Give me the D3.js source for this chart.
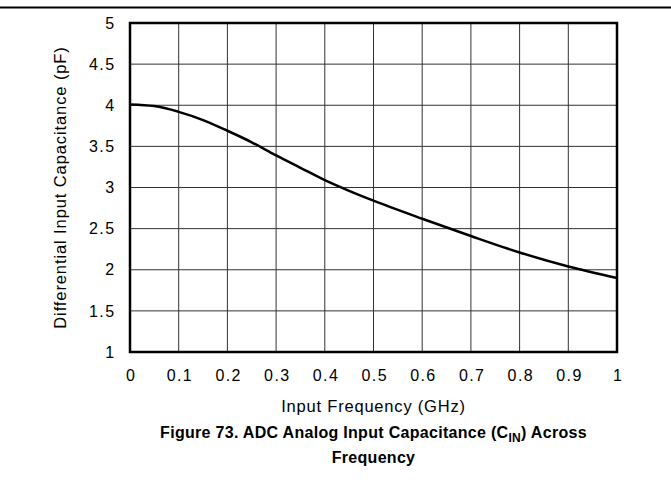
<!DOCTYPE html>
<html>
<head>
<meta charset="utf-8">
<script src="https://cdn.jsdelivr.net/npm/d3@7"></script>
<style>
  body { margin: 0; background: #fff; }
  text { font-family: "Liberation Sans", Arial, Helvetica, sans-serif; fill: #000; }
</style>
</head>
<body>
<div id="container"></div>
<script>
// Data.
const freqGHz = [0, 0.05, 0.1, 0.15, 0.2, 0.25, 0.3, 0.35, 0.4, 0.45, 0.5, 0.6, 0.7, 0.8, 0.9, 1.0];
const capPF   = [4.01, 3.99, 3.92, 3.82, 3.69, 3.55, 3.39, 3.24, 3.09, 2.96, 2.84, 2.62, 2.41, 2.21, 2.04, 1.9];
const xTicks = [0, 0.1, 0.2, 0.3, 0.4, 0.5, 0.6, 0.7, 0.8, 0.9, 1];
const yTicks = [1, 1.5, 2, 2.5, 3, 3.5, 4, 4.5, 5];

const W = 671, H = 491;
const margin = { top: 23, right: 54, bottom: 139, left: 130 },
  width = W - margin.left - margin.right,
  height = H - margin.top - margin.bottom;

const svg = d3.select('#container')
  .append('svg')
  .attr('width', W)
  .attr('height', H);

// Rule at top of the page.
svg.append('line')
  .attr('x1', 0).attr('x2', W)
  .attr('y1', 7.5).attr('y2', 7.5)
  .attr('stroke', '#000')
  .attr('stroke-width', 2);

const g = svg.append('g')
  .attr('transform', `translate(${margin.left} ${margin.top})`);

const x = d3.scaleLinear().domain([0, 1]).range([0, width]);
const y = d3.scaleLinear().domain([1, 5]).range([height, 0]);

// Grid.
g.append('g')
  .selectAll('line')
  .data(xTicks)
  .join('line')
  .attr('x1', d => x(d)).attr('x2', d => x(d))
  .attr('y1', 0).attr('y2', height)
  .attr('stroke', '#333')
  .attr('stroke-width', 1);

g.append('g')
  .selectAll('line')
  .data(yTicks)
  .join('line')
  .attr('x1', 0).attr('x2', width)
  .attr('y1', d => y(d)).attr('y2', d => y(d))
  .attr('stroke', '#333')
  .attr('stroke-width', 1);

// Axes (labels only).
const xAxis = g.append('g')
  .attr('transform', `translate(0 ${height})`)
  .call(d3.axisBottom(x).tickValues(xTicks).tickSize(0).tickPadding(18).tickFormat(d3.format('')));
const yAxis = g.append('g')
  .call(d3.axisLeft(y).tickValues(yTicks).tickSize(0).tickPadding(14.5).tickFormat(d3.format('')));
[xAxis, yAxis].forEach(a => {
  a.select('.domain').remove();
  a.selectAll('text')
    .attr('font-size', 16)
    .attr('letter-spacing', 1.4)
    .attr('font-family', '"Liberation Sans", Arial, sans-serif')
    .attr('fill', '#000');
});
xAxis.selectAll('text').attr('dx', 0.7);

// Frame.
g.append('rect')
  .attr('width', width)
  .attr('height', height)
  .attr('fill', 'none')
  .attr('stroke', '#000')
  .attr('stroke-width', 2.5);

// Curve.
const line = d3.line()
  .x((d, i) => x(freqGHz[i]))
  .y(d => y(d))
  .curve(d3.curveMonotoneX);

g.append('path')
  .datum(capPF)
  .attr('d', line)
  .attr('fill', 'none')
  .attr('stroke', '#000')
  .attr('stroke-width', 2.5);

// Axis titles.
g.append('text')
  .attr('x', width / 2)
  .attr('y', height + 60)
  .attr('text-anchor', 'middle')
  .attr('font-size', 16.5)
  .attr('letter-spacing', 0.8)
  .text('Input Frequency (GHz)');

g.append('text')
  .attr('transform', `translate(${-64} ${height / 2}) rotate(-90)`)
  .attr('text-anchor', 'middle')
  .attr('font-size', 16.5)
  .attr('letter-spacing', 0.9)
  .text('Differential Input Capacitance (pF)');

// Figure caption.
const cap = svg.append('text')
  .attr('x', margin.left + width / 2)
  .attr('y', 438)
  .attr('text-anchor', 'middle')
  .attr('font-size', 16)
  .attr('letter-spacing', 0.3)
  .attr('font-weight', 'bold');
cap.append('tspan').text('Figure 73. ADC Analog Input Capacitance (C');
cap.append('tspan').attr('font-size', 12).attr('dy', 4).text('IN');
cap.append('tspan').attr('dy', -4).text(') Across');

svg.append('text')
  .attr('x', margin.left + width / 2)
  .attr('y', 463)
  .attr('text-anchor', 'middle')
  .attr('font-size', 16)
  .attr('letter-spacing', 0.3)
  .attr('font-weight', 'bold')
  .text('Frequency');
</script>
</body>
</html>
